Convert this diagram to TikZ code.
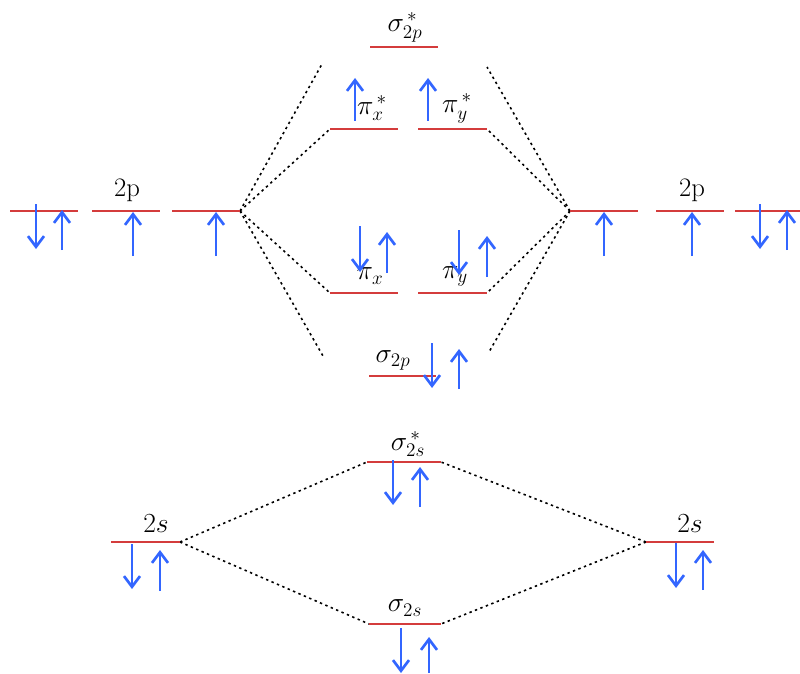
\documentclass[tikz,border=0pt]{standalone}
\usetikzlibrary{arrows.meta}
\definecolor{lvl}{HTML}{D43C3C}
\definecolor{el}{HTML}{3366FF}
\begin{document}
\begin{tikzpicture}[x=0.75pt,y=-0.75pt,
  level/.style={draw=lvl,line width=1.6pt},
  link/.style={draw=black,line width=1.2pt,dash pattern=on 1.8pt off 2.6pt},
  elec/.style={draw=el,line width=2.2pt,-{Straight Barb[length=8pt,width=12pt,line width=2pt]}},
  lab/.style={inner sep=0pt,font=\fontsize{20}{24}\selectfont}]
\useasboundingbox (0,0) rectangle (800,674);
\newcommand{\eup}[3]{\draw[elec] (#1,#2) -- (#1,#3);}
% level end points
\coordinate (s2pAl) at (370,47);  \coordinate (s2pAr) at (438,47);
\coordinate (pxAl) at (330,129);  \coordinate (pxAr) at (398,129);
\coordinate (pyAl) at (418,129);  \coordinate (pyAr) at (487,129);
\coordinate (L1l) at (10,211);  \coordinate (L1r) at (78,211);
\coordinate (L2l) at (92,211);  \coordinate (L2r) at (160,211);
\coordinate (L3l) at (172,211); \coordinate (L3r) at (240,211);
\coordinate (R1l) at (570,211); \coordinate (R1r) at (638,211);
\coordinate (R2l) at (656,211); \coordinate (R2r) at (724,211);
\coordinate (R3l) at (735,211); \coordinate (R3r) at (800,211);
\coordinate (pxBl) at (330,293);  \coordinate (pxBr) at (398,293);
\coordinate (pyBl) at (418,293);  \coordinate (pyBr) at (487,293);
\coordinate (s2pBl) at (369,376); \coordinate (s2pBr) at (436,376);
\coordinate (s2sAl) at (367,462); \coordinate (s2sAr) at (441,462);
\coordinate (sLl) at (111,542); \coordinate (sLr) at (180,542);
\coordinate (sRl) at (646,542); \coordinate (sRr) at (714,542);
\coordinate (s2sBl) at (369,624); \coordinate (s2sBr) at (441,624);
% free ends of the sigma 2p links
\coordinate (tl) at (322,64);  \coordinate (tr) at (487,67);
\coordinate (bl) at (323,356); \coordinate (br) at (489,352);
% links
\draw[link] (L3r) -- (pxAl);
\draw[link] (L3r) -- (pxBl);
\draw[link] (L3r) -- (tl);
\draw[link] (L3r) -- (bl);
\draw[link] (R1l) -- (pyAr);
\draw[link] (R1l) -- (pyBr);
\draw[link] (R1l) -- (tr);
\draw[link] (R1l) -- (br);
\draw[link] (sLr) -- (s2sAl);
\draw[link] (sLr) -- (s2sBl);
\draw[link] (sRl) -- (s2sAr);
\draw[link] (sRl) -- (s2sBr);
% levels
\foreach \a/\b in {s2pAl/s2pAr,pxAl/pxAr,pyAl/pyAr,L1l/L1r,L2l/L2r,L3l/L3r,R1l/R1r,R2l/R2r,R3l/R3r,pxBl/pxBr,pyBl/pyBr,s2pBl/s2pBr,s2sAl/s2sAr,sLl/sLr,sRl/sRr,s2sBl/s2sBr}
  \draw[level] (\a) -- (\b);
% labels
\node[lab] (t1) at (405,27) {$\sigma_{2p}^{\,*}$};
\node[lab] (t2) at (372,108) {$\pi_{x}^{\,*}$};
\node[lab] (t3) at (457,108) {$\pi_{y}^{\,*}$};
\node[lab] (t4) at (127,190) {2p};
\node[lab] (t5) at (692,190) {2p};
\node[lab] (t6) at (370,276) {$\pi_{x}$};
\node[lab] (t7) at (455,276) {$\pi_{y}$};
\node[lab] (t8) at (393,360) {$\sigma_{2p}$};
\node[lab] (t9) at (408,444) {$\sigma_{2s}^{\,*}$};
\node[lab] (t10) at (156,524) {$2s$};
\node[lab] (t11) at (690,524) {$2s$};
\node[lab] (t12) at (405,608) {$\sigma_{2s}$};
% electrons
\eup{36}{204}{249}  \eup{62}{250}{210}
\eup{133}{256}{212} \eup{216}{256}{212}
\eup{604}{256}{212} \eup{692}{256}{212}
\eup{760}{204}{249} \eup{787}{250}{210}
\eup{355}{121}{78}  \eup{428}{121}{78}
\eup{360}{226}{272} \eup{387}{273}{232}
\eup{459}{230}{275} \eup{487}{277}{236}
\eup{432}{343}{388} \eup{459}{389}{349}
\eup{393}{460}{505} \eup{420}{507}{467}
\eup{132}{544}{589} \eup{160}{591}{550}
\eup{676}{543}{588} \eup{703}{590}{550}
\eup{401}{628}{673} \eup{429}{673}{637}
\end{tikzpicture}
\end{document}
